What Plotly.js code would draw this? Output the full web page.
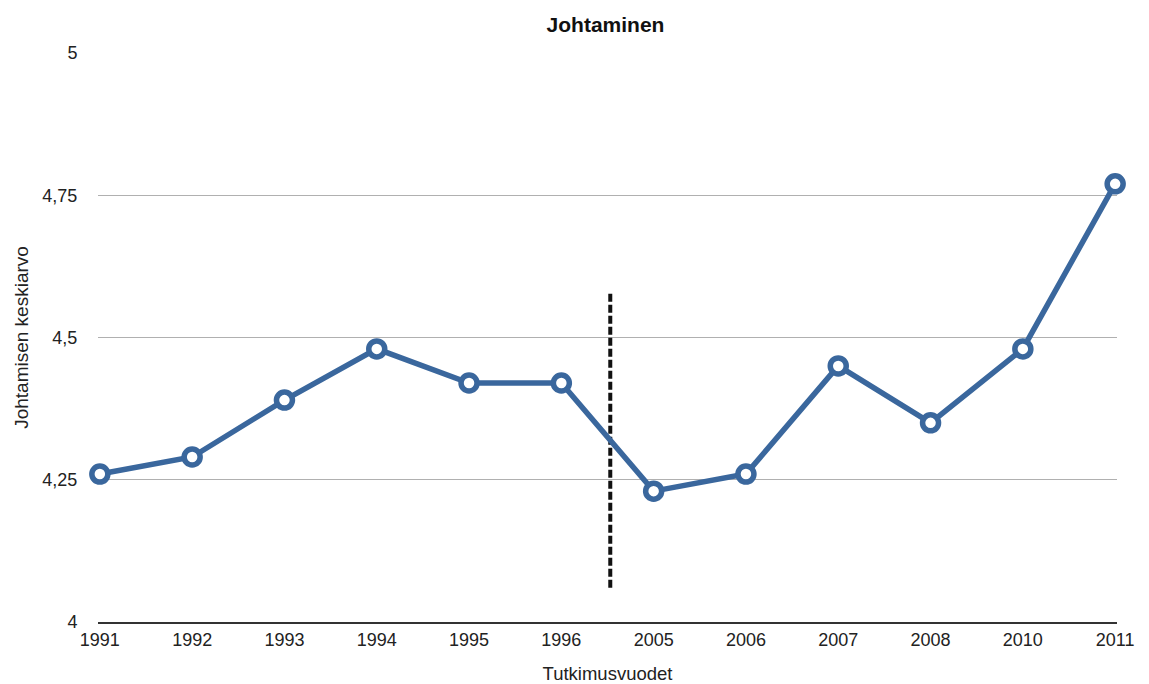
<!DOCTYPE html>
<html>
<head>
<meta charset="utf-8">
<script src="https://cdn.plot.ly/plotly-3.0.1.min.js"></script>
<style>html,body{margin:0;padding:0;background:#fff;}#chart{width:1149px;height:684px;}</style>
</head>
<body>
<div id="chart"></div>
<script>
const years = ['1991','1992','1993','1994','1995','1996','2005','2006','2007','2008','2010','2011'];
const means = [4.26, 4.29, 4.39, 4.48, 4.42, 4.42, 4.23, 4.26, 4.45, 4.35, 4.48, 4.77];
const yTicks = [4, 4.25, 4.5, 4.75, 5];
const yTickLabels = ['4', '4,25', '4,5', '4,75', '5'];
const separatorX = [5.53, 5.53];
const separatorY = [4.06, 4.58];

const idx = years.map((_, i) => i);
const font = 'Liberation Sans, Arial, Helvetica, sans-serif';

const traces = [
  {
    x: separatorX, y: separatorY, mode: 'lines', type: 'scatter',
    line: {color: '#111', width: 4, dash: '8px,3px'}, hoverinfo: 'skip', showlegend: false
  },
  {
    x: idx, y: means, mode: 'lines+markers', type: 'scatter', cliponaxis: false,
    line: {color: '#3a679d', width: 5.5},
    marker: {size: 16, color: '#fff', line: {color: '#3a679d', width: 5.5}},
    showlegend: false
  }
];

const layout = {
  width: 1149, height: 684,
  margin: {l: 98, r: 32, t: 53, b: 62},
  paper_bgcolor: '#fff', plot_bgcolor: '#fff',
  title: {text: '<b>Johtaminen</b>', font: {family: font, size: 21, color: '#111'}, x: 0.527, xanchor: 'center', y: 0.975, yanchor: 'top'},
  xaxis: {
    type: 'linear', range: [-0.02, 11.02], tickvals: idx, ticktext: years,
    showgrid: false, zeroline: false, showline: true, linecolor: '#333', linewidth: 2,
    ticks: '', ticklen: 0, tickfont: {family: font, size: 18, color: '#222'},
    title: {text: 'Tutkimusvuodet', font: {family: font, size: 18.5, color: '#222'}, standoff: 20}
  },
  yaxis: {
    range: [4, 5], tickvals: yTicks, ticktext: yTickLabels,
    showgrid: true, gridcolor: '#b0b0b0', gridwidth: 1, zeroline: false, showline: false,
    ticks: 'outside', ticklen: 16, tickcolor: 'rgba(0,0,0,0)',
    tickfont: {family: font, size: 18, color: '#222'},
    title: {text: 'Johtamisen keskiarvo', font: {family: font, size: 19, color: '#222'}, standoff: 8}
  }
};

Plotly.newPlot('chart', traces, layout, {displayModeBar: false, staticPlot: true});
</script>
</body>
</html>
